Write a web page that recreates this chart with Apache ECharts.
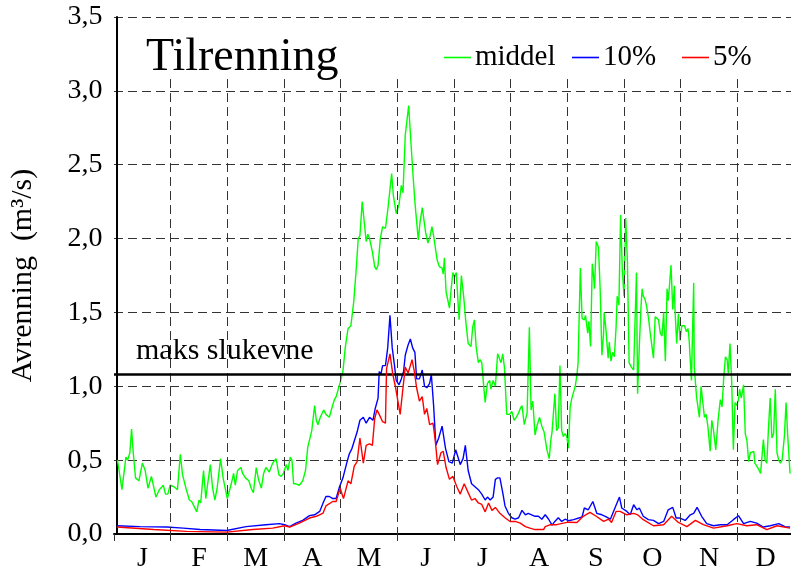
<!DOCTYPE html>
<html><head><meta charset="utf-8">
<script src="https://cdn.jsdelivr.net/npm/echarts@6/dist/echarts.min.js"></script>
<style>html,body{margin:0;padding:0;background:#fff}#c{width:791px;height:571px}</style>
</head><body><div id="c"></div>
<script>
const months = ['J','F','M','A','M','J','J','A','S','O','N','D'];
const monthBoundaries = [1,2,3,4,5,6,7,8,9,10,11];
const maksSlukevne = 1.08;
// [month position, m3/s]
const middel = [[0.06,0.50],[0.09,0.43],[0.14,0.30],[0.21,0.52],[0.24,0.50],[0.28,0.55],[0.31,0.71],[0.34,0.55],[0.38,0.38],[0.44,0.36],[0.50,0.48],[0.55,0.43],[0.60,0.31],[0.66,0.39],[0.74,0.25],[0.80,0.30],[0.87,0.33],[0.91,0.27],[0.95,0.27],[0.99,0.33],[1.06,0.32],[1.12,0.30],[1.17,0.54],[1.21,0.40],[1.27,0.31],[1.33,0.23],[1.37,0.22],[1.41,0.19],[1.46,0.15],[1.50,0.23],[1.53,0.21],[1.58,0.43],[1.62,0.24],[1.65,0.33],[1.70,0.47],[1.74,0.31],[1.78,0.23],[1.82,0.31],[1.88,0.51],[1.93,0.37],[2.00,0.24],[2.07,0.34],[2.11,0.41],[2.14,0.33],[2.18,0.43],[2.24,0.45],[2.27,0.41],[2.32,0.38],[2.38,0.36],[2.42,0.31],[2.46,0.28],[2.51,0.45],[2.55,0.37],[2.60,0.31],[2.64,0.41],[2.68,0.45],[2.74,0.42],[2.80,0.48],[2.86,0.51],[2.91,0.40],[2.95,0.39],[2.99,0.41],[3.04,0.47],[3.07,0.43],[3.11,0.52],[3.14,0.50],[3.17,0.34],[3.21,0.34],[3.27,0.33],[3.33,0.36],[3.38,0.43],[3.42,0.59],[3.45,0.58],[3.49,0.70],[3.54,0.87],[3.57,0.77],[3.60,0.74],[3.64,0.79],[3.67,0.78],[3.70,0.84],[3.74,0.81],[3.77,0.82],[3.80,0.79],[3.85,0.86],[3.89,0.91],[3.92,0.93],[3.98,1.01],[4.04,1.10],[4.08,1.26],[4.13,1.39],[4.18,1.41],[4.23,1.57],[4.27,1.77],[4.31,2.00],[4.34,2.02],[4.38,2.25],[4.41,2.25],[4.45,1.98],[4.48,2.03],[4.51,2.00],[4.56,1.91],[4.60,1.81],[4.63,1.79],[4.66,1.82],[4.70,2.00],[4.74,2.08],[4.79,2.07],[4.83,2.19],[4.86,2.20],[4.90,2.44],[4.93,2.29],[4.98,2.17],[5.03,2.23],[5.07,2.36],[5.10,2.31],[5.14,2.70],[5.17,2.69],[5.20,2.90],[5.24,2.65],[5.28,2.41],[5.31,2.25],[5.33,2.16],[5.37,1.99],[5.40,2.11],[5.44,2.21],[5.47,2.20],[5.50,2.04],[5.54,1.97],[5.58,2.02],[5.61,2.08],[5.64,2.02],[5.67,2.03],[5.70,1.86],[5.74,1.81],[5.79,1.80],[5.81,1.76],[5.83,1.87],[5.86,1.64],[5.92,1.53],[5.95,1.66],[5.98,1.77],[6.01,1.74],[6.04,1.77],[6.09,1.45],[6.13,1.75],[6.17,1.61],[6.21,1.43],[6.25,1.29],[6.30,1.27],[6.33,1.40],[6.36,1.45],[6.39,1.27],[6.43,1.16],[6.46,1.18],[6.49,1.16],[6.52,1.02],[6.55,0.89],[6.59,1.02],[6.63,1.04],[6.65,0.98],[6.69,1.04],[6.73,1.00],[6.77,1.22],[6.80,1.23],[6.83,1.16],[6.86,1.22],[6.89,1.13],[6.93,0.81],[6.98,0.81],[7.02,0.83],[7.06,0.77],[7.10,0.79],[7.14,0.82],[7.17,0.85],[7.20,0.87],[7.24,0.74],[7.29,0.82],[7.33,1.40],[7.36,0.84],[7.39,0.90],[7.43,0.67],[7.47,0.74],[7.51,0.79],[7.55,0.73],[7.59,0.69],[7.64,0.57],[7.68,0.51],[7.71,0.64],[7.73,0.69],[7.78,0.95],[7.81,0.70],[7.84,0.72],[7.87,1.14],[7.90,0.70],[7.93,0.66],[7.96,0.68],[7.99,0.66],[8.02,0.58],[8.05,0.86],[8.08,0.92],[8.11,0.91],[8.14,1.00],[8.17,1.08],[8.19,1.16],[8.21,1.49],[8.23,1.80],[8.26,1.46],[8.28,1.47],[8.30,1.45],[8.32,1.48],[8.36,1.36],[8.38,1.44],[8.41,1.27],[8.44,1.83],[8.46,1.76],[8.48,1.66],[8.51,1.98],[8.55,1.94],[8.58,1.65],[8.61,1.21],[8.64,1.36],[8.65,1.50],[8.68,1.39],[8.72,1.19],[8.74,1.30],[8.77,1.17],[8.80,1.23],[8.83,1.20],[8.86,1.40],[8.88,1.61],[8.91,1.55],[8.94,2.16],[8.97,1.79],[9.00,1.61],[9.03,2.14],[9.06,1.85],[9.09,1.16],[9.13,1.13],[9.17,1.11],[9.20,1.10],[9.22,1.77],[9.24,0.95],[9.27,1.27],[9.30,1.54],[9.32,1.66],[9.34,1.61],[9.37,1.59],[9.40,1.54],[9.43,1.47],[9.46,1.37],[9.49,1.36],[9.52,1.19],[9.55,1.47],[9.58,1.47],[9.61,1.45],[9.64,1.36],[9.67,1.34],[9.70,1.50],[9.73,1.17],[9.76,1.66],[9.78,1.58],[9.80,1.67],[9.83,1.82],[9.86,1.52],[9.89,1.68],[9.90,1.52],[9.93,1.29],[9.96,1.49],[9.99,1.31],[10.02,1.41],[10.07,1.41],[10.10,1.37],[10.13,1.39],[10.15,1.31],[10.19,1.04],[10.23,1.70],[10.24,1.13],[10.28,0.93],[10.33,0.79],[10.36,1.00],[10.39,1.00],[10.42,0.79],[10.45,0.81],[10.48,0.73],[10.52,0.56],[10.55,0.77],[10.58,0.70],[10.62,0.57],[10.66,0.77],[10.70,0.91],[10.73,0.86],[10.76,1.06],[10.79,1.20],[10.82,1.18],[10.84,1.09],[10.87,1.29],[10.90,1.04],[10.93,0.57],[10.96,0.89],[10.99,0.87],[11.02,0.91],[11.04,0.98],[11.07,0.92],[11.11,1.01],[11.14,0.68],[11.17,0.63],[11.20,0.49],[11.23,0.55],[11.26,0.54],[11.29,0.56],[11.31,0.48],[11.36,0.45],[11.41,0.41],[11.43,0.40],[11.46,0.64],[11.49,0.50],[11.52,0.48],[11.55,0.72],[11.58,0.92],[11.61,0.65],[11.64,0.68],[11.67,0.98],[11.70,0.55],[11.73,0.50],[11.76,0.48],[11.79,0.50],[11.83,0.66],[11.86,0.89],[11.89,0.66],[11.93,0.41]];
const p10 = [[0.05,0.056],[0.46,0.05],[0.93,0.047],[1.22,0.04],[1.52,0.03],[1.99,0.024],[2.33,0.05],[2.68,0.063],[2.92,0.07],[3.01,0.063],[3.10,0.05],[3.21,0.074],[3.33,0.092],[3.45,0.124],[3.54,0.13],[3.63,0.153],[3.69,0.21],[3.74,0.254],[3.80,0.254],[3.86,0.24],[3.92,0.24],[3.98,0.32],[4.04,0.38],[4.10,0.47],[4.15,0.54],[4.20,0.58],[4.24,0.63],[4.29,0.69],[4.34,0.77],[4.40,0.79],[4.45,0.75],[4.51,0.79],[4.57,0.77],[4.61,0.85],[4.66,0.92],[4.68,1.10],[4.71,1.08],[4.74,1.14],[4.79,1.14],[4.83,1.26],[4.87,1.48],[4.91,1.26],[4.95,1.14],[4.98,1.04],[5.03,1.01],[5.07,1.05],[5.11,1.10],[5.14,1.21],[5.19,1.28],[5.23,1.32],[5.27,1.26],[5.31,1.23],[5.34,1.05],[5.39,1.05],[5.44,1.11],[5.48,1.00],[5.52,0.99],[5.57,1.02],[5.60,1.08],[5.64,0.87],[5.68,0.60],[5.73,0.65],[5.79,0.73],[5.85,0.58],[5.91,0.49],[5.97,0.48],[6.03,0.57],[6.11,0.47],[6.16,0.51],[6.20,0.60],[6.25,0.43],[6.31,0.34],[6.37,0.32],[6.43,0.30],[6.49,0.27],[6.55,0.23],[6.59,0.25],[6.64,0.23],[6.69,0.25],[6.73,0.37],[6.77,0.38],[6.81,0.38],[6.86,0.28],[6.90,0.19],[6.96,0.14],[7.02,0.11],[7.08,0.10],[7.14,0.11],[7.20,0.16],[7.26,0.13],[7.31,0.14],[7.37,0.13],[7.43,0.12],[7.49,0.12],[7.55,0.10],[7.61,0.13],[7.67,0.10],[7.73,0.06],[7.78,0.085],[7.84,0.11],[7.90,0.085],[7.96,0.10],[8.02,0.09],[8.11,0.097],[8.26,0.115],[8.30,0.176],[8.37,0.164],[8.45,0.22],[8.52,0.14],[8.61,0.13],[8.67,0.12],[8.76,0.10],[8.84,0.176],[8.92,0.25],[8.96,0.176],[9.05,0.153],[9.11,0.13],[9.17,0.198],[9.23,0.164],[9.27,0.176],[9.34,0.12],[9.43,0.097],[9.52,0.092],[9.61,0.07],[9.70,0.085],[9.78,0.164],[9.86,0.18],[9.92,0.108],[9.99,0.108],[10.08,0.092],[10.17,0.13],[10.23,0.14],[10.29,0.18],[10.37,0.12],[10.46,0.07],[10.58,0.056],[10.70,0.063],[10.82,0.063],[10.93,0.097],[11.02,0.124],[11.11,0.07],[11.23,0.085],[11.34,0.074],[11.46,0.047],[11.58,0.056],[11.73,0.07],[11.84,0.05],[11.93,0.047]];
const p5 = [[0.05,0.047],[0.70,0.03],[1.28,0.018],[1.99,0.013],[2.45,0.03],[2.80,0.04],[3.01,0.056],[3.10,0.047],[3.27,0.074],[3.45,0.108],[3.57,0.12],[3.69,0.142],[3.74,0.19],[3.86,0.22],[3.92,0.22],[3.99,0.31],[4.05,0.24],[4.13,0.36],[4.18,0.34],[4.24,0.46],[4.29,0.49],[4.34,0.65],[4.40,0.48],[4.45,0.60],[4.51,0.61],[4.56,0.60],[4.60,0.78],[4.64,0.84],[4.68,0.81],[4.74,0.76],[4.79,0.75],[4.81,1.12],[4.87,1.22],[4.92,1.08],[4.97,0.99],[5.01,0.90],[5.05,0.81],[5.10,0.99],[5.14,1.13],[5.19,1.09],[5.23,1.14],[5.26,1.18],[5.30,1.10],[5.34,0.99],[5.39,0.90],[5.44,0.93],[5.48,0.81],[5.52,0.85],[5.57,0.74],[5.63,0.75],[5.67,0.63],[5.71,0.47],[5.77,0.55],[5.81,0.56],[5.86,0.45],[5.92,0.37],[5.98,0.39],[6.05,0.32],[6.11,0.27],[6.18,0.34],[6.25,0.28],[6.31,0.23],[6.37,0.24],[6.43,0.21],[6.49,0.20],[6.55,0.15],[6.61,0.21],[6.67,0.16],[6.73,0.18],[6.81,0.14],[6.90,0.11],[6.99,0.085],[7.08,0.085],[7.17,0.074],[7.26,0.05],[7.34,0.04],[7.43,0.03],[7.58,0.03],[7.61,0.05],[7.70,0.063],[7.81,0.063],[7.93,0.074],[8.02,0.08],[8.17,0.078],[8.28,0.12],[8.40,0.146],[8.51,0.12],[8.64,0.085],[8.73,0.10],[8.78,0.078],[8.86,0.153],[8.93,0.153],[9.05,0.13],[9.17,0.14],[9.24,0.13],[9.34,0.097],[9.52,0.056],[9.70,0.063],[9.84,0.12],[9.96,0.078],[10.11,0.05],[10.26,0.092],[10.40,0.063],[10.58,0.04],[10.82,0.056],[10.99,0.07],[11.17,0.056],[11.34,0.063],[11.52,0.03],[11.70,0.056],[11.93,0.04]];

const SERIF = "'Liberation Serif','Times New Roman',serif";
const DASH = [9, 5];
const GRIDC = '#333';
const chart = echarts.init(document.getElementById('c'), null, {renderer: 'canvas'});
const legendItem = (name, left) => ({
  data: [name], left: left, top: 43, padding: 0, icon: 'rect', itemWidth: 27, itemHeight: 1.6, itemGap: 4,
  textStyle: {fontFamily: SERIF, fontSize: 29, color: '#000', padding: [0,0,0,-1]},
  selectedMode: false
});
chart.setOption({
  animation: false,
  backgroundColor: '#fff',
  title: {text: 'Tilrenning', left: 141, top: 30, textStyle: {fontFamily: SERIF, fontSize: 46, fontWeight: 'normal', color: '#000'}},
  legend: [legendItem('middel', 444), legendItem('10%', 572), legendItem('5%', 682)],
  grid: {left: 114, right: -3, top: 17, bottom: 37, containLabel: false, outerBoundsMode: 'none'},
  xAxis: [{
    type: 'category', data: months, boundaryGap: true, position: 'bottom',
    axisLine: {lineStyle: {color: '#000', width: 2}},
    axisTick: {show: true, interval: 0, length: 7, lineStyle: {color: GRIDC, width: 1}},
    axisLabel: {interval: 0, margin: 11, fontFamily: SERIF, fontSize: 28, color: '#000'},
    splitLine: {show: false}
  }, {
    type: 'value', min: 0, max: 12, show: false
  }],
  yAxis: {
    type: 'value', min: 0, max: 3.5, interval: 0.5, offset: -2.5,
    name: 'Avrenning  (m³/s)', nameLocation: 'middle', nameRotate: 90, nameGap: 78,
    nameTextStyle: {fontFamily: SERIF, fontSize: 30, color: '#000'},
    axisLine: {show: true, lineStyle: {color: '#000', width: 2}},
    axisTick: {show: false},
    axisLabel: {margin: 14, fontFamily: SERIF, fontSize: 28, color: '#000',
      formatter: v => v.toFixed(1).replace('.', ',')},
    splitLine: {show: true, lineStyle: {color: GRIDC, type: DASH, width: 1}}
  },
  series: [
    {name: 'grid-months', type: 'line', xAxisIndex: 1, data: [], silent: true, z: 1,
      markLine: {silent: true, symbol: 'none', animation: false, label: {show: false},
        lineStyle: {color: GRIDC, type: DASH, width: 1},
        data: monthBoundaries.map(m => [{coord: [m, 3.08]}, {coord: [m, 0]}])}},
    {name: 'middel', type: 'line', xAxisIndex: 1, data: middel, showSymbol: false, z: 3,
      lineStyle: {color: '#00ff00', width: 1.4}, itemStyle: {color: '#00ff00'}},
    {name: '10%', type: 'line', xAxisIndex: 1, data: p10, showSymbol: false, z: 4,
      lineStyle: {color: '#0000ff', width: 1.4}, itemStyle: {color: '#0000ff'}},
    {name: '5%', type: 'line', xAxisIndex: 1, data: p5, showSymbol: false, z: 5,
      lineStyle: {color: '#ff0000', width: 1.4}, itemStyle: {color: '#ff0000'}},
    {name: 'maks', type: 'line', xAxisIndex: 1, data: [], silent: true, z: 10,
      markLine: {silent: true, symbol: 'none', animation: false,
        lineStyle: {color: '#000', type: 'solid', width: 2.5},
        label: {show: true, position: 'insideStartTop', formatter: 'maks slukevne', distance: [22, 8],
          fontFamily: SERIF, fontSize: 30, color: '#000'},
        data: [{yAxis: maksSlukevne}]}}
  ]
});
</script>
</body></html>
